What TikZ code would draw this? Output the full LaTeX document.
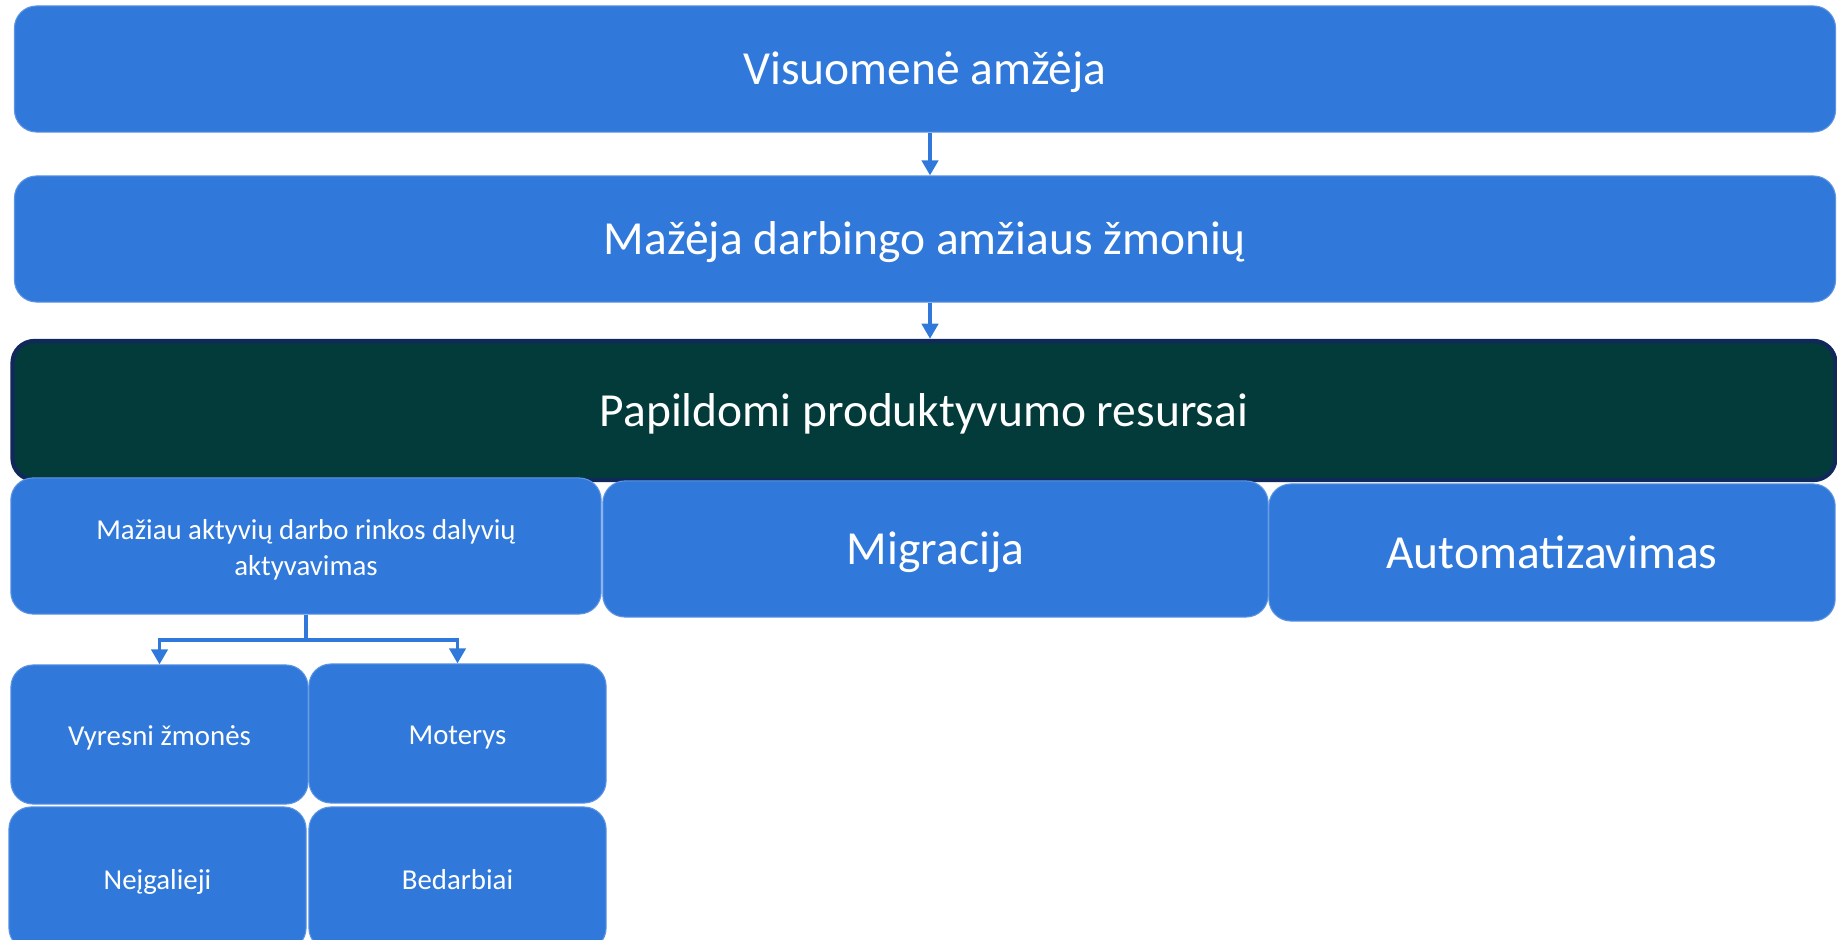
\documentclass[tikz,border=0pt]{standalone}
\usepackage{fontspec}
\setmainfont{Carlito}
\usetikzlibrary{arrows.meta}
\definecolor{AgingBlue}{HTML}{3079DB}
\definecolor{AgingEdge}{HTML}{5E95E2}
\definecolor{AgingTeal}{HTML}{033B3B}
\definecolor{AgingNavy}{HTML}{10295A}

\begin{document}
\begin{tikzpicture}[x=0.01cm,y=-0.01cm,
    blockbox/.style={draw=AgingEdge,line width=0.3pt,fill=AgingBlue,rounded corners=0.22cm,text=white,inner sep=0pt,align=center},
    bigtext/.style={font=\fontsize{13.5}{16}\selectfont,text height=11pt,text depth=2pt},
    smalltext/.style={font=\fontsize{8.2}{10}\selectfont,text height=8pt,text depth=2pt},
    flow/.style={draw=AgingBlue,line width=1.1pt,-{Triangle[length=4.3pt,width=4.6pt]}}]
  \clip (0,0) rectangle (1837,940);
  \coordinate (axis) at (930,0);
  % chain at the top
  \node[blockbox,bigtext,minimum width=18.2cm,minimum height=1.26cm] (aging) at (925,69) {Visuomenė amžėja};
  \node[blockbox,bigtext,minimum width=18.2cm,minimum height=1.26cm] (shrink) at (925,239) {Mažėja darbingo amžiaus žmonių};
  \node[blockbox,bigtext,draw=AgingNavy,line width=1.2pt,fill=AgingTeal,minimum width=18.22cm,minimum height=1.39cm] (resources) at (924,410.5) {Papildomi produktyvumo resursai};
  \draw[flow] (aging.south -| axis) -- (shrink.north -| axis);
  \draw[flow] (shrink.south -| axis) -- (resources.north -| axis);
  % three sources
  \node[blockbox,smalltext,text height=18.7pt,text depth=2.2pt,minimum width=5.9cm,minimum height=1.36cm] (less) at (306,546) {Mažiau aktyvių darbo rinkos dalyvių\\aktyvavimas};
  \node[blockbox,bigtext,minimum width=6.65cm,minimum height=1.36cm] (migr) at (935.5,549) {Migracija};
  \node[blockbox,bigtext,minimum width=5.66cm,minimum height=1.37cm] (auto) at (1552,552.5) {Automatizavimas};
  % groups
  \node[blockbox,smalltext,minimum width=2.97cm,minimum height=1.39cm] (older) at (159.5,734.5) {Vyresni žmonės};
  \node[blockbox,smalltext,minimum width=2.97cm,minimum height=1.39cm] (women) at (457.5,733.5) {Moterys};
  \node[blockbox,smalltext,minimum width=2.97cm,minimum height=1.43cm] (disabled) at (157.5,878.5) {Neįgalieji};
  \node[blockbox,smalltext,minimum width=2.97cm,minimum height=1.43cm] (unemployed) at (457.5,878.5) {Bedarbiai};
  \draw[flow] (less.south) -- ++(0,25) -| (older.north);
  \draw[flow] (less.south) -- ++(0,25) -| (women.north);
\end{tikzpicture}
\end{document}
